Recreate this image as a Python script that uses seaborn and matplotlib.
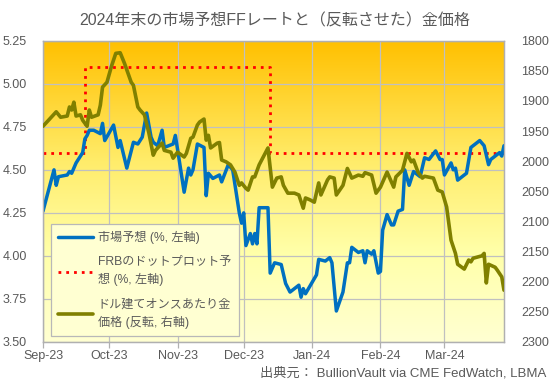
import numpy as np
import pandas as pd
import seaborn as sns
import matplotlib.pyplot as plt
import matplotlib.dates as mdates
from matplotlib.colors import LinearSegmentedColormap
from matplotlib.lines import Line2D

# market-implied end-2024 Fed Funds rate (%, left axis)
mkt_dates = [
    "2023-09-01", "2023-09-06", "2023-09-07", "2023-09-08", "2023-09-12", "2023-09-13",
    "2023-09-14", "2023-09-16", "2023-09-18", "2023-09-19", "2023-09-20", "2023-09-21",
    "2023-09-22", "2023-09-24", "2023-09-27", "2023-09-28", "2023-09-29",
    "2023-10-03", "2023-10-05", "2023-10-06", "2023-10-09", "2023-10-12", "2023-10-14",
    "2023-10-16", "2023-10-18", "2023-10-20", "2023-10-21", "2023-10-23", "2023-10-25",
    "2023-10-26", "2023-10-30", "2023-10-31",
    "2023-11-01", "2023-11-04", "2023-11-06", "2023-11-07", "2023-11-08", "2023-11-10",
    "2023-11-13", "2023-11-14", "2023-11-15", "2023-11-17", "2023-11-20", "2023-11-21",
    "2023-11-24", "2023-11-26", "2023-11-29", "2023-11-30",
    "2023-12-01", "2023-12-02", "2023-12-04", "2023-12-05", "2023-12-06", "2023-12-07",
    "2023-12-08", "2023-12-12", "2023-12-13", "2023-12-15", "2023-12-18", "2023-12-20",
    "2023-12-22", "2023-12-26", "2023-12-27", "2023-12-28", "2023-12-29",
    "2024-01-03", "2024-01-04", "2024-01-07", "2024-01-09", "2024-01-10", "2024-01-12",
    "2024-01-15", "2024-01-17", "2024-01-18", "2024-01-19", "2024-01-22", "2024-01-24",
    "2024-01-25", "2024-01-26", "2024-01-28", "2024-01-29", "2024-01-31",
    "2024-02-01", "2024-02-02", "2024-02-04", "2024-02-06", "2024-02-07", "2024-02-09",
    "2024-02-11", "2024-02-12", "2024-02-14", "2024-02-16", "2024-02-19", "2024-02-21",
    "2024-02-23", "2024-02-26", "2024-02-28", "2024-02-29",
    "2024-03-01", "2024-03-04", "2024-03-05", "2024-03-06", "2024-03-07", "2024-03-11",
    "2024-03-13", "2024-03-17", "2024-03-19", "2024-03-21", "2024-03-22", "2024-03-26",
    "2024-03-27", "2024-03-28",
]
mkt_rate = [
    4.26, 4.50, 4.41, 4.46, 4.47, 4.49, 4.48, 4.54, 4.58, 4.60, 4.68, 4.70, 4.73, 4.73,
    4.71, 4.77, 4.67,
    4.76, 4.63, 4.67, 4.51, 4.66, 4.65, 4.69, 4.83, 4.69, 4.66, 4.64, 4.73, 4.63, 4.65, 4.70,
    4.62, 4.37, 4.51, 4.47, 4.50, 4.65, 4.63, 4.35, 4.48, 4.45, 4.47, 4.43, 4.53, 4.50,
    4.25, 4.19,
    4.25, 4.06, 4.13, 4.07, 4.13, 4.07, 4.28, 4.28, 3.90, 3.96, 3.95, 3.84, 3.79, 3.83,
    3.76, 3.81, 3.78,
    3.89, 3.98, 3.97, 3.99, 3.96, 3.68, 3.79, 3.96, 3.96, 4.05, 4.02, 4.03, 3.96, 4.03,
    4.01, 4.03, 3.90,
    3.91, 4.15, 4.24, 4.18, 4.18, 4.26, 4.27, 4.50, 4.41, 4.49, 4.46, 4.57, 4.56, 4.61,
    4.56, 4.56,
    4.47, 4.54, 4.50, 4.51, 4.44, 4.48, 4.63, 4.67, 4.64, 4.53, 4.56, 4.60, 4.58, 4.64,
]

# FOMC dot plot median for end-2024 (%, left axis)
dot_dates = ["2023-09-01", "2023-09-20", "2023-12-13", "2024-03-28"]
dot_rate = [4.60, 5.10, 4.60, 4.60]

# gold price USD/oz (right axis, inverted)
gold_dates = [
    "2023-09-01", "2023-09-07", "2023-09-09", "2023-09-12", "2023-09-13", "2023-09-14",
    "2023-09-15", "2023-09-16", "2023-09-18", "2023-09-19", "2023-09-21", "2023-09-22",
    "2023-09-23", "2023-09-26", "2023-09-27", "2023-09-28", "2023-09-30",
    "2023-10-02", "2023-10-04", "2023-10-06", "2023-10-08", "2023-10-11", "2023-10-12",
    "2023-10-14", "2023-10-15", "2023-10-17", "2023-10-19", "2023-10-21", "2023-10-22",
    "2023-10-25", "2023-10-26", "2023-10-29", "2023-10-30",
    "2023-11-01", "2023-11-04", "2023-11-05", "2023-11-07", "2023-11-08", "2023-11-10",
    "2023-11-11", "2023-11-13", "2023-11-14", "2023-11-15", "2023-11-16", "2023-11-19",
    "2023-11-20", "2023-11-21", "2023-11-23", "2023-11-25", "2023-11-27", "2023-11-29",
    "2023-11-30",
    "2023-12-02", "2023-12-03", "2023-12-05", "2023-12-06", "2023-12-08", "2023-12-12",
    "2023-12-14", "2023-12-16", "2023-12-18", "2023-12-19", "2023-12-21", "2023-12-24",
    "2023-12-26", "2023-12-28", "2023-12-29", "2023-12-31",
    "2024-01-02", "2024-01-04", "2024-01-05", "2024-01-08", "2024-01-09", "2024-01-11",
    "2024-01-12", "2024-01-15", "2024-01-17", "2024-01-19", "2024-01-22", "2024-01-24",
    "2024-01-25", "2024-01-28", "2024-01-30",
    "2024-02-01", "2024-02-04", "2024-02-07", "2024-02-08", "2024-02-11", "2024-02-13",
    "2024-02-15", "2024-02-16", "2024-02-18", "2024-02-20", "2024-02-21", "2024-02-25",
    "2024-02-27", "2024-02-29",
    "2024-03-02", "2024-03-04", "2024-03-06", "2024-03-07", "2024-03-10", "2024-03-12",
    "2024-03-13", "2024-03-14", "2024-03-18", "2024-03-19", "2024-03-20", "2024-03-21",
    "2024-03-24", "2024-03-25", "2024-03-27", "2024-03-28",
]
gold_price = [
    1942, 1918, 1927, 1925, 1910, 1915, 1902, 1925, 1923, 1932, 1942, 1915, 1927, 1923,
    1907, 1877, 1869,
    1843, 1821, 1820, 1838, 1869, 1874, 1910, 1915, 1923, 1953, 1990, 1982, 1970, 1982,
    1985, 1995,
    1985, 1993, 1987, 1962, 1960, 1940, 1935, 1930, 1965, 1957, 1978, 1970, 1969, 1998,
    2001, 2006, 2018, 2040, 2036,
    2045, 2048, 2026, 2026, 2006, 1978, 2043, 2028, 2026, 2040, 2053, 2053, 2056, 2078,
    2061, 2064,
    2068, 2036, 2056, 2031, 2026, 2028, 2056, 2040, 2012, 2028, 2023, 2025, 2019, 2023, 2053,
    2043, 2018, 2043, 2026, 2015, 1987, 2001, 1998, 2018, 2028, 2025, 2028, 2048, 2051,
    2076, 2131, 2153, 2171, 2179, 2164, 2167, 2161, 2157, 2153, 2202, 2171, 2176, 2181,
    2192, 2214,
]

left_ticks = [3.50, 3.75, 4.00, 4.25, 4.50, 4.75, 5.00, 5.25]
right_ticks = list(range(1800, 2301, 50))

title = "2024年末の市場予想FFレートと（反転させた）金価格"
source = "出典元： BullionVault via CME FedWatch, LBMA"
lab_mkt = "市場予想 (%, 左軸)"
lab_dot = "FRBのドットプロット予\n想 (%, 左軸)"
lab_gold = "ドル建てオンスあたり金\n価格 (反転, 右軸)"

mkt = pd.DataFrame({"date": pd.to_datetime(mkt_dates), "rate": mkt_rate})
dot = pd.DataFrame({"date": pd.to_datetime(dot_dates), "rate": dot_rate})
gold = pd.DataFrame({"date": pd.to_datetime(gold_dates), "price": gold_price})

sns.set_style("white")
plt.rcParams['font.family'] = ['Liberation Sans', 'Noto Sans CJK JP', 'DejaVu Sans']

BLUE = "#0070C0"
OLIVE = "#808000"
RED = "#FF0000"
TXT = "#595959"
GRID = "#C0C0C0"

fig = plt.figure(figsize=(5.49, 3.84), dpi=100)
ax = fig.add_axes([0.0783, 0.1094, 0.8397, 0.7846])

# gradient background
cmap = LinearSegmentedColormap.from_list(
    "bg", [(0.0, "#FFFFD2"), (0.3, "#FFFFA8"), (0.6, "#FFEC6A"), (1.0, "#FFC000")])
grad = np.linspace(0, 1, 256).reshape(-1, 1)
ax.imshow(grad, cmap=cmap, aspect="auto", extent=[0, 1, 0, 1],
          transform=ax.transAxes, origin="lower", zorder=0)

sns.lineplot(data=dot, x="date", y="rate", ax=ax, color=RED, lw=2.0,
             linestyle=(0, (1, 1.8)), drawstyle="steps-post", estimator=None, zorder=3)
sns.lineplot(data=mkt, x="date", y="rate", ax=ax, color=BLUE, lw=2.5,
             estimator=None, zorder=4)

ax2 = ax.twinx()
sns.lineplot(data=gold, x="date", y="price", ax=ax2, color=OLIVE, lw=2.6,
             estimator=None, zorder=3)

xmin, xmax = pd.Timestamp("2023-09-01"), pd.Timestamp("2024-03-28")
ax.set_xlim(xmin, xmax)
ax.set_ylim(3.50, 5.25)
ax2.set_ylim(2300, 1800)

ax.set_yticks(left_ticks)
ax.set_yticklabels([f"{v:.2f}" for v in left_ticks])
ax2.set_yticks(right_ticks)
ax2.set_yticklabels([str(v) for v in right_ticks])

ax.xaxis.set_major_locator(mdates.MonthLocator())
ax.xaxis.set_major_formatter(mdates.DateFormatter("%b-%y"))

ax.grid(True, color=GRID, lw=0.9, zorder=1)
ax.set_axisbelow(True)
for a in (ax, ax2):
    a.set_xlabel("")
    a.set_ylabel("")
    for sp in a.spines.values():
        sp.set_color("#B0B0B0")
        sp.set_linewidth(0.9)

ax.tick_params(axis="x", bottom=True, length=4, width=0.9, color="#B0B0B0",
               labelsize=9, labelcolor=TXT, pad=2)
ax.tick_params(axis="y", left=False, labelsize=9, labelcolor=TXT, pad=8)
ax2.tick_params(axis="y", right=False, labelsize=9, labelcolor=TXT, pad=9)

handles = [
    Line2D([], [], color=BLUE, lw=2.5),
    Line2D([], [], color=RED, lw=2.0, linestyle=(0, (1, 1.8))),
    Line2D([], [], color=OLIVE, lw=2.6),
]
leg = ax2.legend(handles, [lab_mkt, lab_dot, lab_gold], loc="lower left",
                 bbox_to_anchor=(0.017, 0.02), borderaxespad=0, fontsize=8.7,
                 frameon=True, fancybox=False, framealpha=1, facecolor="#FFFFD2",
                 edgecolor="#B8B8B8", handlelength=2.9, handletextpad=0.4,
                 labelspacing=1.0, borderpad=0.6)
leg.get_frame().set_linewidth(0.9)
for t in leg.get_texts():
    t.set_color(TXT)
    t.set_linespacing(1.5)

fig.text(0.5, 0.946, title, ha="center", va="center", fontsize=11.5, color=TXT)
fig.text(0.995, 0.029, source, ha="right", va="center", fontsize=9.5, color=TXT)

fig.savefig("out.png", dpi=100)
